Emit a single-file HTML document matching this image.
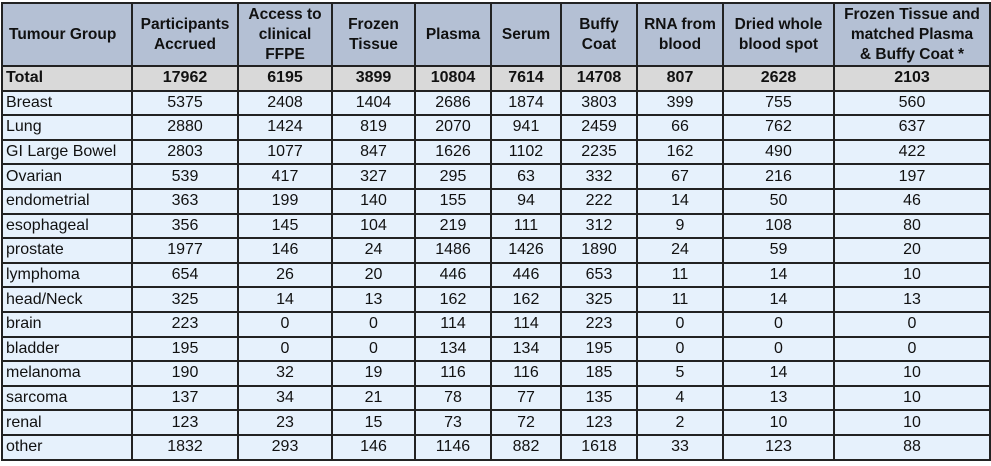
<!DOCTYPE html>
<html><head><meta charset="utf-8"><style>
html,body{margin:0;padding:0;background:#fff;width:991px;height:466px;overflow:hidden}
table{position:absolute;left:1px;top:2px;border-collapse:collapse;table-layout:fixed;font-family:"Liberation Sans",sans-serif;font-size:16px;color:#111}
td{border:2px solid #222;padding:0;text-align:center;white-space:nowrap;overflow:hidden;line-height:18px}
tr.h td{background:#b4c0d4;font-weight:bold;height:61px;font-size:15.5px;line-height:20px}
tr.t td{background:#d9d9d9;font-weight:bold;height:22.6px}
tr.d td{background:#e6f1fc;height:22.6px}
td:first-child{text-align:left;padding-left:3px}
tr.h td:first-child{padding-left:6px}
</style></head><body>
<table>
<colgroup><col style="width:130px"><col style="width:106px"><col style="width:94px"><col style="width:83px"><col style="width:76px"><col style="width:70px"><col style="width:76px"><col style="width:86px"><col style="width:111px"><col style="width:156px"></colgroup>
<tr class="h"><td>Tumour Group</td><td>Participants<br>Accrued</td><td>Access to<br>clinical<br>FFPE</td><td>Frozen<br>Tissue</td><td>Plasma</td><td>Serum</td><td>Buffy<br>Coat</td><td>RNA from<br>blood</td><td>Dried whole<br>blood spot</td><td>Frozen Tissue and<br>matched Plasma<br>&amp; Buffy Coat *</td></tr>
<tr class="t"><td>Total</td><td>17962</td><td>6195</td><td>3899</td><td>10804</td><td>7614</td><td>14708</td><td>807</td><td>2628</td><td>2103</td></tr>
<tr class="d"><td>Breast</td><td>5375</td><td>2408</td><td>1404</td><td>2686</td><td>1874</td><td>3803</td><td>399</td><td>755</td><td>560</td></tr>
<tr class="d"><td>Lung</td><td>2880</td><td>1424</td><td>819</td><td>2070</td><td>941</td><td>2459</td><td>66</td><td>762</td><td>637</td></tr>
<tr class="d"><td>GI Large Bowel</td><td>2803</td><td>1077</td><td>847</td><td>1626</td><td>1102</td><td>2235</td><td>162</td><td>490</td><td>422</td></tr>
<tr class="d"><td>Ovarian</td><td>539</td><td>417</td><td>327</td><td>295</td><td>63</td><td>332</td><td>67</td><td>216</td><td>197</td></tr>
<tr class="d"><td>endometrial</td><td>363</td><td>199</td><td>140</td><td>155</td><td>94</td><td>222</td><td>14</td><td>50</td><td>46</td></tr>
<tr class="d"><td>esophageal</td><td>356</td><td>145</td><td>104</td><td>219</td><td>111</td><td>312</td><td>9</td><td>108</td><td>80</td></tr>
<tr class="d"><td>prostate</td><td>1977</td><td>146</td><td>24</td><td>1486</td><td>1426</td><td>1890</td><td>24</td><td>59</td><td>20</td></tr>
<tr class="d"><td>lymphoma</td><td>654</td><td>26</td><td>20</td><td>446</td><td>446</td><td>653</td><td>11</td><td>14</td><td>10</td></tr>
<tr class="d"><td>head/Neck</td><td>325</td><td>14</td><td>13</td><td>162</td><td>162</td><td>325</td><td>11</td><td>14</td><td>13</td></tr>
<tr class="d"><td>brain</td><td>223</td><td>0</td><td>0</td><td>114</td><td>114</td><td>223</td><td>0</td><td>0</td><td>0</td></tr>
<tr class="d"><td>bladder</td><td>195</td><td>0</td><td>0</td><td>134</td><td>134</td><td>195</td><td>0</td><td>0</td><td>0</td></tr>
<tr class="d"><td>melanoma</td><td>190</td><td>32</td><td>19</td><td>116</td><td>116</td><td>185</td><td>5</td><td>14</td><td>10</td></tr>
<tr class="d"><td>sarcoma</td><td>137</td><td>34</td><td>21</td><td>78</td><td>77</td><td>135</td><td>4</td><td>13</td><td>10</td></tr>
<tr class="d"><td>renal</td><td>123</td><td>23</td><td>15</td><td>73</td><td>72</td><td>123</td><td>2</td><td>10</td><td>10</td></tr>
<tr class="d"><td>other</td><td>1832</td><td>293</td><td>146</td><td>1146</td><td>882</td><td>1618</td><td>33</td><td>123</td><td>88</td></tr>
</table>
</body></html>
